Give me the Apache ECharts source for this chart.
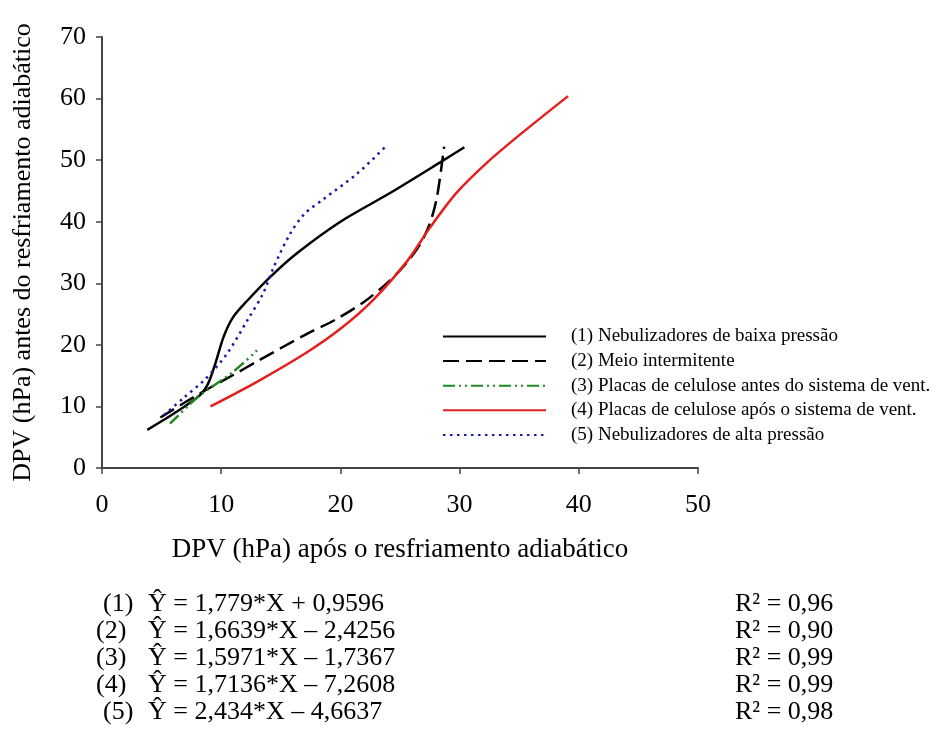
<!DOCTYPE html>
<html>
<head>
<meta charset="utf-8">
<script src="https://cdn.jsdelivr.net/npm/echarts@6/dist/echarts.min.js"></script>
<style>
html,body{margin:0;padding:0;background:#fff;}
#chart{width:944px;height:738px;}
</style>
</head>
<body>
<div id="chart"></div>
<script>
// ---- data ----
const xTicks = [0, 10, 20, 30, 40, 50];
const yTicks = [0, 10, 20, 30, 40, 50, 60, 70];

const seriesNames = [
  '(1) Nebulizadores de baixa pressão',
  '(2) Meio intermitente',
  '(3) Placas de celulose antes do sistema de vent.',
  '(4) Placas de celulose após o sistema de vent.',
  '(5) Nebulizadores de alta pressão'
];

const s1 = [[3.8,6.2],[6.0,8.8],[8.2,11.8],[8.9,13.7],[9.5,16.9],[10.2,21.3],[11.0,24.5],[12.2,27.2],[14.1,31.0],[16.3,34.8],[20.0,40.0],[24.2,44.7],[28.5,49.8],[30.4,52.1]];
const s2 = [[4.9,8.2],[8.2,12.1],[11.0,15.1],[13.0,17.3],[17.2,21.8],[19.5,24.0],[22.0,27.0],[24.0,30.2],[25.5,33.2],[26.7,36.4],[27.5,39.7],[28.1,44.0],[28.7,52.2]];
const s3 = [[5.7,7.2],[7.4,10.4],[8.2,11.8],[11.0,15.6],[13.0,19.1]];
const s4 = [[9.1,10.0],[13.0,14.0],[17.2,18.8],[20.0,22.6],[22.8,27.4],[25.6,33.6],[27.5,39.0],[29.7,44.6],[32.3,49.6],[35.1,54.2],[39.1,60.4]];
const s5 = [[5.2,8.6],[6.8,11.3],[8.7,14.5],[10.5,18.6],[12.2,24.0],[13.5,28.3],[14.4,32.6],[15.8,38.1],[17.0,41.3],[18.6,43.7],[21.4,47.8],[23.9,52.4]];

const equations = [
  ['(1)', 'Ŷ = 1,779*X + 0,9596', 'R² = 0,96'],
  ['(2)', 'Ŷ = 1,6639*X – 2,4256', 'R² = 0,90'],
  ['(3)', 'Ŷ = 1,5971*X – 1,7367', 'R² = 0,99'],
  ['(4)', 'Ŷ = 1,7136*X – 7,2608', 'R² = 0,99'],
  ['(5)', 'Ŷ = 2,434*X – 4,6637', 'R² = 0,98']
];

const xTitle = 'DPV (hPa) após o resfriamento adiabático';
const yTitle = 'DPV (hPa) antes do resfriamento adiabático';

// ---- chart ----
const FONT = 'Liberation Serif';
const chart = echarts.init(document.getElementById('chart'));

const styles = [
  {color:'#000000', type:'solid', width:2.5},
  {color:'#000000', type:[16,7], width:2.5},
  {color:'#1f8a1f', type:[12,4,2,4,2,4], width:2.5},
  {color:'#e3201c', type:'solid', width:2.5},
  {color:'#1a1aa8', type:[2.5,4.5], width:2.5}
];
const datas = [s1,s2,s3,s4,s5];

const series = datas.map((d,i)=>({
  name: seriesNames[i],
  type: 'line',
  data: d,
  smooth: 0.3,
  symbol: 'none',
  lineStyle: {color: styles[i].color, type: styles[i].type, width: styles[i].width},
  itemStyle: {color: styles[i].color},
  z: i===3 ? 3 : 2
}));

const graphic = [];
const rowY = [604, 631, 658, 685, 712];
const labelX = [103, 96, 96, 96, 103];
const EQF = '26px "Liberation Serif"';
equations.forEach((e,i)=>{
  graphic.push({type:'text', left: labelX[i], top: rowY[i]-13, style:{text:e[0], font:EQF, fill:'#000'}});
  graphic.push({type:'text', left: 148, top: rowY[i]-13, style:{text:e[1], font:EQF, fill:'#000'}});
  graphic.push({type:'text', left: 735, top: rowY[i]-13, style:{text:e[2], font:EQF, fill:'#000'}});
});

chart.setOption({
  animation: false,
  backgroundColor: '#fff',
  grid: {left: 102, right: 944-698, top: 37, bottom: 738-468, containLabel: false},
  xAxis: {
    type: 'value', min: xTicks[0], max: xTicks[xTicks.length-1], interval: 10,
    name: xTitle, nameLocation: 'middle', nameGap: 68,
    nameTextStyle: {fontFamily: FONT, fontSize: 27, color: '#000'},
    axisLine: {show: true, lineStyle: {color: '#444', width: 2}},
    axisTick: {show: true, inside: false, length: 6, lineStyle: {color: '#444', width: 1.5}},
    axisLabel: {fontFamily: FONT, fontSize: 26, color: '#000', margin: 24},
    splitLine: {show: false}
  },
  yAxis: {
    type: 'value', min: yTicks[0], max: yTicks[yTicks.length-1], interval: 10,
    name: yTitle, nameLocation: 'middle', nameGap: 66, nameRotate: 90,
    nameTextStyle: {fontFamily: FONT, fontSize: 26, color: '#000'},
    axisLine: {show: true, lineStyle: {color: '#444', width: 2}},
    axisTick: {show: true, inside: false, length: 6, lineStyle: {color: '#444', width: 1.5}},
    axisLabel: {fontFamily: FONT, fontSize: 26, color: '#000', margin: 16},
    splitLine: {show: false}
  },
  legend: {
    orient: 'vertical', left: 437, top: 322,
    itemWidth: 103, itemHeight: 20, itemGap: 5.6,
    itemStyle: {opacity: 0},
    textStyle: {fontFamily: FONT, fontSize: 19, color: '#000', padding: [0,0,0,20]},
    data: seriesNames
  },
  series: series,
  graphic: graphic
});
</script>
</body>
</html>
